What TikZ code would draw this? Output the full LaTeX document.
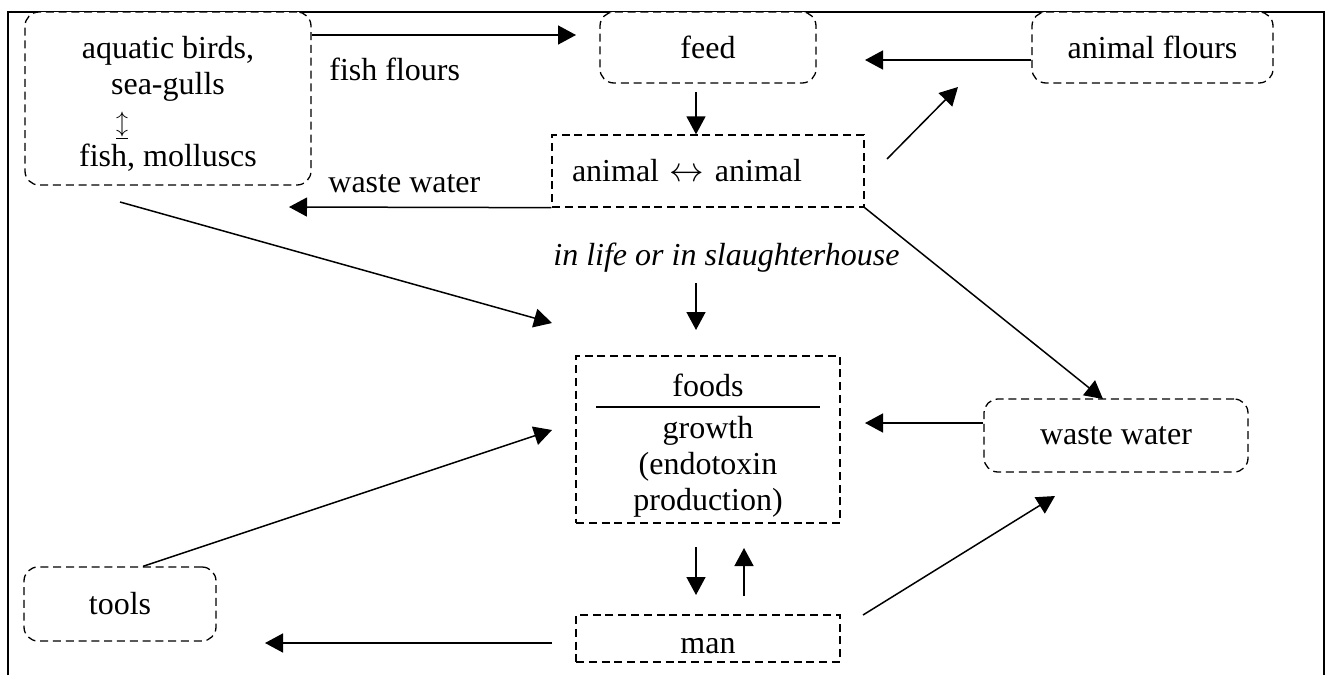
\documentclass[tikz,border=0pt]{standalone}
\usepackage{fontspec}
\setmainfont{Liberation Serif}
\usetikzlibrary{arrows.meta}

\begin{document}
\begin{tikzpicture}[x=0.5pt,y=-0.5pt,
  every node/.style={font=\fontsize{16}{18}\selectfont},
  roundbox/.style={draw,fill=white,line width=0.65pt,dash pattern=on 4pt off 2.4pt,rounded corners=7pt,inner sep=0pt,align=center},
  sharpbox/.style={draw,fill=white,line width=0.65pt,dash pattern=on 4pt off 2.4pt,inner sep=0pt,align=center},
  lbl/.style={anchor=base west,inner sep=0pt},
  link/.style={-{Triangle[length=9pt,width=9.5pt]},line width=0.75pt}]
  \useasboundingbox (0,0) rectangle (1331,675);

  % Frame
  \draw[line width=1.25pt] (8,675) -- (8,12) -- (1324,12) -- (1324,675);

  % Boxes
  \node[roundbox,minimum width=143pt,minimum height=86.5pt] (sea) at (168,98.5)
    {\rule{0pt}{16pt}aquatic birds,\\sea-gulls\\\llap{{\fontsize{12}{12}\selectfont$\underline{\updownarrow}$}\hspace{20pt}}\\fish, molluscs};
  \node[roundbox,minimum width=108pt,minimum height=35.5pt] (feed) at (708,47.5) {feed};
  \node[roundbox,minimum width=120.5pt,minimum height=35.5pt] (aflour) at (1152.5,47.5) {animal flours};
  \node[sharpbox,minimum width=156pt,minimum height=36pt,text width=136pt,inner xsep=10pt,align=left] (anim) at (708,171) {animal $\leftrightarrow$ animal};
  \node[sharpbox,minimum width=132pt,minimum height=83.5pt] (foods) at (708,439.5)
    {\rule{0pt}{17pt}foods\\[3pt]growth\\(endotoxin\\production)};
  \node[roundbox,minimum width=132pt,minimum height=36.5pt] (wwater) at (1116,435.5) {waste water};
  \node[sharpbox,minimum width=132pt,minimum height=23.5pt,text height=15pt] (man) at (708,638.5) {man};
  \node[roundbox,minimum width=96pt,minimum height=37pt] (tools) at (120,604) {tools};

  % Divider in foods box
  \draw[line width=0.9pt] (596,407) -- (820,407);

  % Labels
  \node[lbl] (fishlbl) at (329,80) {fish flours};
  \node[lbl] (wastelbl) at (328,192) {waste water};
  \node[lbl,font=\fontsize{16}{18}\selectfont\itshape] (lifelbl) at (553,265) {in life or in slaughterhouse};

  % Arrow ends
  \coordinate (ffend) at (576,35);
  \coordinate (feedout) at (696,92);
  \coordinate (afend) at (865,60);
  \coordinate (animout) at (887,159);
  \coordinate (afin) at (958,87);
  \coordinate (wwend) at (289,207);
  \coordinate (seaout) at (120,202);
  \coordinate (foodsinA) at (552,323);
  \coordinate (lifeout) at (696,283);
  \coordinate (lifein) at (696,330);
  \coordinate (wwin) at (1103,399);
  \coordinate (wwend2) at (865,423);
  \coordinate (foodsinB) at (552,430);
  \coordinate (downA) at (696,547);
  \coordinate (downB) at (696,595);
  \coordinate (upA) at (744,596);
  \coordinate (upB) at (744,548);
  \coordinate (manout) at (552,643);
  \coordinate (manend) at (265,643);
  \coordinate (manout2) at (863,615);
  \coordinate (wwin2) at (1055,496);

  % Arrows
  \draw[link] (sea.east |- ffend) -- (ffend);
  \draw[link] (feedout) -- (feedout |- anim.north);
  \draw[link] (aflour.west |- afend) -- (afend);
  \draw[link] (animout) -- (afin);
  \draw[link] (anim.south west) -- (wwend);
  \draw[link] (seaout) -- (foodsinA);
  \draw[link] (lifeout) -- (lifein);
  \draw[link] (anim.south east) -- (wwin);
  \draw[link] (wwater.west |- wwend2) -- (wwend2);
  \draw[link] (tools.north -| 143,0) -- (foodsinB);
  \draw[link] (downA) -- (downB);
  \draw[link] (upA) -- (upB);
  \draw[link] (manout) -- (manend);
  \draw[link] (manout2) -- (wwin2);

\end{tikzpicture}
\end{document}
